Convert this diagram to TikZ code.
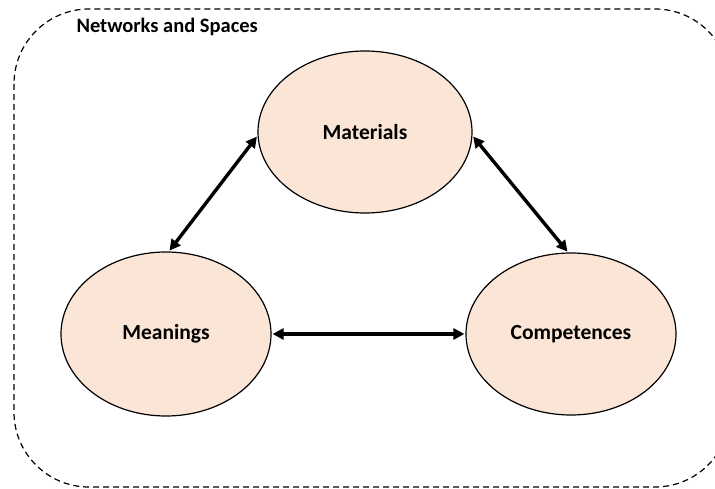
\documentclass[tikz,border=0pt]{standalone}
\usepackage{fontspec}
\setmainfont{Carlito}
\usetikzlibrary{shapes.geometric,arrows.meta}
\definecolor{peach}{HTML}{FBE5D6}
\begin{document}
\begin{tikzpicture}[x=1pt,y=-1pt,
  blob/.style={ellipse,draw=black,line width=1.2pt,fill=peach,minimum width=214pt,minimum height=162pt,inner sep=0pt,font=\bfseries\fontsize{21.5}{24}\selectfont},
  link/.style={line width=3.4pt,{Triangle[length=11pt,width=11pt]}-{Triangle[length=11pt,width=11pt]},shorten <=1pt,shorten >=1pt}]
\useasboundingbox (0,0) rectangle (715,489);
\draw[line width=1.2pt,dash pattern=on 6pt off 4pt,rounded corners=75pt] (14,9) rectangle (730,487);
\node[anchor=west,font=\bfseries\fontsize{20.5}{23}\selectfont] (title) at (73,27) {Networks and Spaces};
\node[blob] (mat) at (365,132) {Materials};
\node[blob,minimum width=210pt,minimum height=164pt] (mea) at (166,334) {Meanings};
\node[blob,minimum width=210pt,minimum height=162pt] (com) at (571,334) {Competences};
\draw[link] (mat.182) -- (mea.88);
\draw[link] (mat.-2) -- (com.92);
\draw[link] (mea.east) -- (com.west);
\end{tikzpicture}
\end{document}
